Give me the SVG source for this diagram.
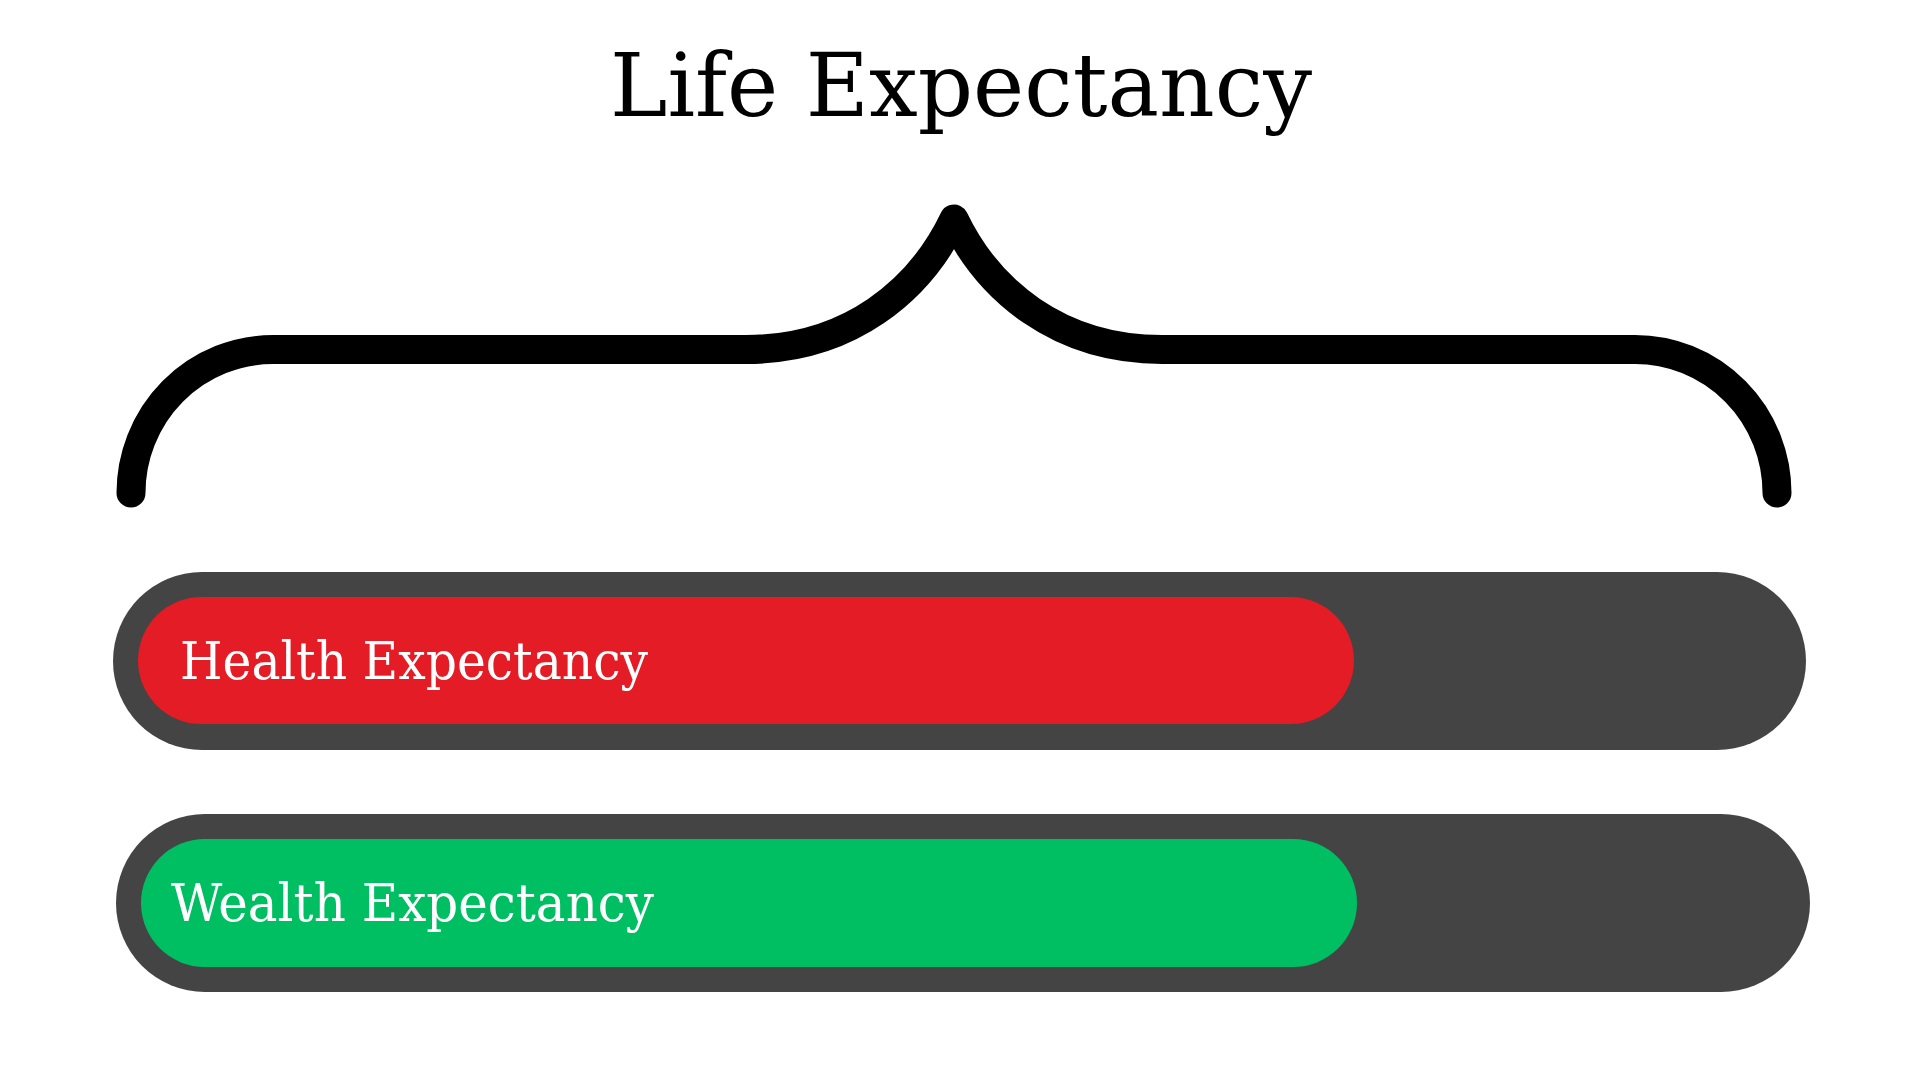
<svg xmlns="http://www.w3.org/2000/svg" width="1920" height="1080" viewBox="0 0 1920 1080">
  <style>
    .title { font-family: "DejaVu Serif", "Liberation Serif", serif; font-size: 88px; fill: #000000; }
    .label { font-family: "DejaVu Serif", "Liberation Serif", serif; font-size: 52px; fill: #ffffff; }
    .track { fill: #444444; }
    .brace { fill: none; stroke: #000000; stroke-width: 29; stroke-linecap: round; stroke-linejoin: round; }
  </style>
  <rect x="0" y="0" width="1920" height="1080" fill="#ffffff"/>
  <g id="title">
    <text class="title" x="610" y="116" textLength="702" lengthAdjust="spacingAndGlyphs">Life Expectancy</text>
  </g>
  <g id="connectors">
    <path class="brace" d="M131,493 A142,143.5 0 0 1 273,349.5 H746 C850,349.5 920,290 954,219 C988,290 1058,349.5 1162,349.5 H1635 A142,143.5 0 0 1 1777,493"/>
  </g>
  <g id="health">
    <rect class="track" x="113" y="572" width="1693" height="178" rx="89" ry="89"/>
    <rect x="138" y="597" width="1216" height="127" rx="63.5" ry="63.5" fill="#E31C25"/>
    <text class="label" x="180" y="679" textLength="468" lengthAdjust="spacingAndGlyphs">Health Expectancy</text>
  </g>
  <g id="wealth">
    <rect class="track" x="116" y="814" width="1694" height="178" rx="89" ry="89"/>
    <rect x="141" y="839" width="1216" height="128" rx="64" ry="64" fill="#00BF63"/>
    <text class="label" x="171" y="921" textLength="483" lengthAdjust="spacingAndGlyphs">Wealth Expectancy</text>
  </g>
</svg>
